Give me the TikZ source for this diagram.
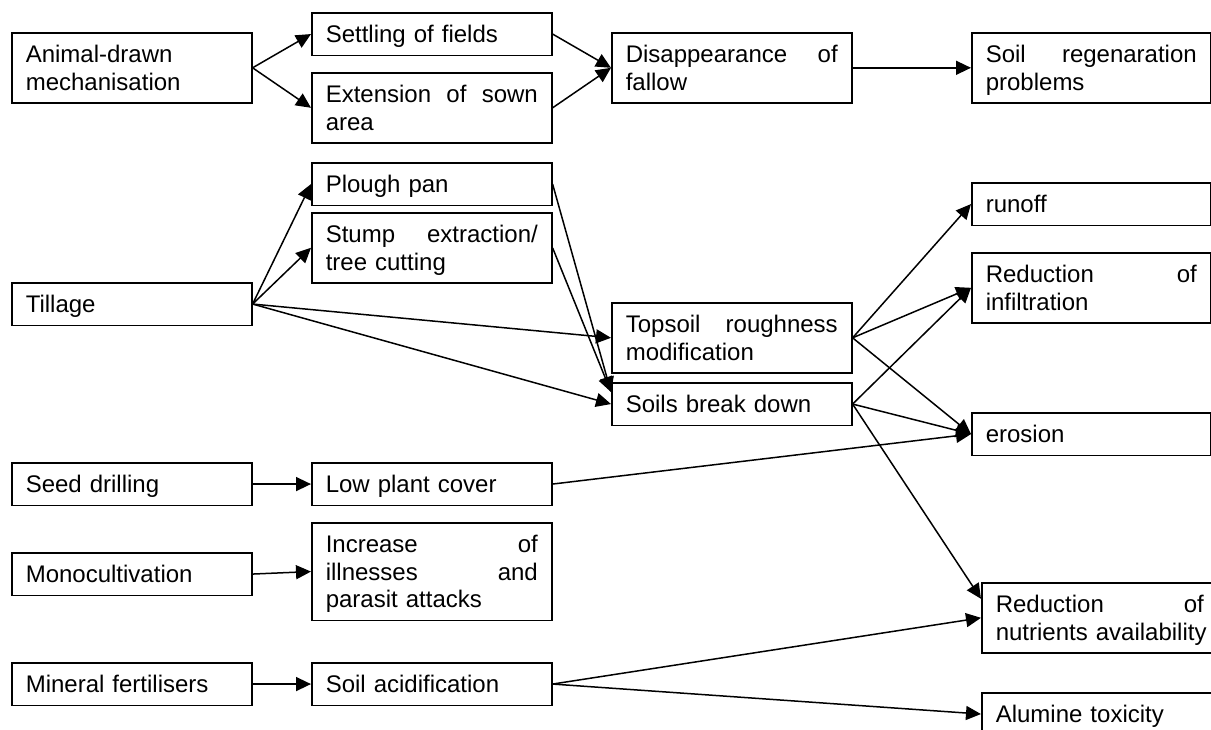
\documentclass[tikz,border=0pt]{standalone}
\usepackage{fontspec}
\setmainfont{Liberation Sans}
\usetikzlibrary{arrows.meta}
\newcommand{\jline}[2][212pt]{\leavevmode\hbox to #1{#2}}
\begin{document}
\begin{tikzpicture}[x=1pt,y=-1pt,
  box/.style={draw, line width=1.6pt, anchor=north west, text width=212pt,
    inner xsep=14pt, inner ysep=0pt, align=left,
    font=\fontsize{24pt}{27.5pt}\selectfont,
    execute at begin node=\rule{0pt}{30pt},
    execute at end node=\rule[-12.5pt]{0pt}{12.5pt}},
  rbox/.style={box, text width=211pt},
  arr/.style={line width=1.5pt, -{Triangle[length=15pt,width=14pt]}}]
\useasboundingbox (0,0) rectangle (1211,729);
% left column
\node[box] (anim) at (11,32) {Animal-drawn\\mechanisation};
\node[box] (till) at (11,282) {Tillage};
\node[box] (seed) at (11,462) {Seed drilling};
\node[box] (mono) at (11,552) {Monocultivation};
\node[box] (mine) at (11,662) {Mineral fertilisers};
% second column
\node[box] (settle) at (311,12) {Settling of fields};
\node[box] (ext) at (311,72) {\jline{Extension\hfill of\hfill sown}\\area};
\node[box] (plough) at (311,162) {Plough pan};
\node[box] (stump) at (311,212) {\jline{Stump\hfill extraction/}\\tree cutting};
\node[box] (low) at (311,462) {Low plant cover};
\node[box] (inc) at (311,522) {\jline{Increase\hfill of}\\\jline{illnesses\hfill and}\\parasit attacks};
\node[box] (acid) at (311,662) {Soil acidification};
% third column
\node[box] (dis) at (611,32) {\jline{Disappearance\hfill of}\\fallow};
\node[box] (top) at (611,302) {\jline{Topsoil\hfill roughness}\\modification};
\node[box] (sbd) at (611,382) {Soils break down};
% right column
\node[rbox] (regen) at (971,32) {\jline[211pt]{Soil\hfill regenaration}\\problems};
\node[rbox] (run) at (971,182) {runoff};
\node[rbox] (infil) at (971,252) {\jline[211pt]{Reduction\hfill of}\\infiltration};
\node[rbox] (ero) at (971,412) {erosion};
\node[box, text width=216pt] (nut) at (981,582) {\jline[208pt]{Reduction\hfill of}\\nutrients availability};
\node[box] (alum) at (981,692) {Alumine toxicity};
\coordinate (sbdin) at ([yshift=-10pt]sbd.north west);
\coordinate (nutin) at ([yshift=19pt]nut.west);
% connectors
\draw[arr] (anim.east) -- (settle.west);
\draw[arr] (anim.east) -- (ext.west);
\draw[arr] (settle.east) -- (dis.west);
\draw[arr] (ext.east) -- (dis.west);
\draw[arr] (dis.east) -- (regen.west);
\draw[arr] (till.east) -- (plough.west);
\draw[arr] (till.east) -- (stump.west);
\draw[arr] (till.east) -- (top.west);
\draw[arr] (till.east) -- (sbd.west);
\draw[arr] (plough.east) -- (sbdin);
\draw[arr] (stump.east) -- (sbdin);
\draw[arr] (top.east) -- (run.west);
\draw[arr] (top.east) -- (infil.west);
\draw[arr] (top.east) -- (ero.west);
\draw[arr] (sbd.east) -- (infil.west);
\draw[arr] (sbd.east) -- (ero.west);
\draw[arr] (sbd.east) -- (nutin);
\draw[arr] (seed.east) -- (low.west);
\draw[arr] (low.east) -- (ero.west);
\draw[arr] (mono.east) -- (inc.west);
\draw[arr] (mine.east) -- (acid.west);
\draw[arr] (acid.east) -- (nut.west);
\draw[arr] (acid.east) -- (alum.west);
\end{tikzpicture}
\end{document}
